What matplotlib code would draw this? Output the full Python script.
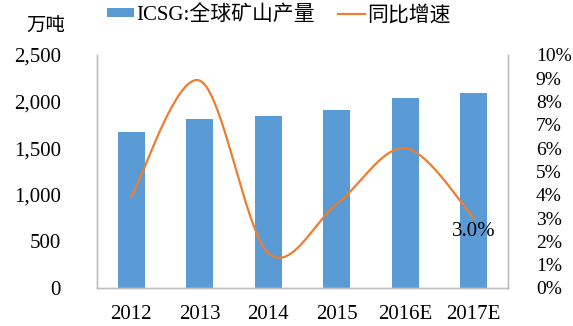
import matplotlib.pyplot as plt
import numpy as np
from matplotlib.lines import Line2D
from matplotlib.patches import Patch
from matplotlib.ticker import FuncFormatter

years = ["2012", "2013", "2014", "2015", "2016E", "2017E"]
output = [1671, 1817, 1849, 1913, 2035, 2090]  # 万吨
growth = [3.9, 8.9, 1.5, 3.6, 6.0, 3.0]  # %

BLUE = "#5B9BD5"
ORANGE = "#ED7D31"
GRAY = "#BFBFBF"
LATIN = ["Liberation Serif", "Noto Sans CJK SC"]
CJK = ["Noto Sans CJK SC", "Liberation Serif"]


def smooth_curve(xs, ys, steps=40):
    # cubic bezier through each point, tangents from the neighbours (office-style smoothing)
    pts = np.column_stack([xs, ys]).astype(float)
    padded = np.vstack([pts[0], pts, pts[-1]])
    out = []
    t = np.linspace(0.0, 1.0, steps)[:, None]
    for i in range(len(pts) - 1):
        p0, p3 = padded[i + 1], padded[i + 2]
        c1 = p0 + (padded[i + 2] - padded[i]) / 6.0
        c2 = p3 - (padded[i + 3] - padded[i + 1]) / 6.0
        seg = ((1 - t) ** 3) * p0 + 3 * ((1 - t) ** 2) * t * c1 + 3 * (1 - t) * t ** 2 * c2 + t ** 3 * p3
        out.append(seg if i == 0 else seg[1:])
    out = np.vstack(out)
    return out[:, 0], out[:, 1]


fig = plt.figure(figsize=(5.73, 3.26), dpi=100)
ax = fig.add_axes([0.1693, 0.1166, 0.7173, 0.7147])
x = np.arange(len(years))
ax.bar(x, output, width=0.39, color=BLUE, zorder=2)
ax.set_xlim(-0.5, len(years) - 0.5)
ax.set_ylim(0, 2500)
ax.set_yticks(np.arange(0, 2501, 500))
ax.yaxis.set_major_formatter(FuncFormatter(lambda v, p: f"{int(v):,}"))
ax.set_xticks(x)
ax.set_xticklabels(years)
ax.tick_params(length=0)
ax.tick_params(axis="y", pad=26)
ax.tick_params(axis="x", pad=12)
for lab in ax.get_xticklabels() + ax.get_yticklabels():
    lab.set_family(LATIN)
    lab.set_fontsize(15)

ax2 = ax.twinx()
sx, sy = smooth_curve(x, growth)
ax2.plot(sx, sy, color=ORANGE, lw=1.6, zorder=3)
ax2.set_ylim(0, 10)
ax2.set_yticks(np.arange(0, 11, 1))
ax2.yaxis.set_major_formatter(FuncFormatter(lambda v, p: f"{int(v)}%"))
ax2.tick_params(length=0, pad=20)
for lab in ax2.get_yticklabels():
    lab.set_family(LATIN)
    lab.set_fontsize(14)
ax2.annotate(f"{growth[-1]:.1f}%", (x[-1], growth[-1]), xytext=(0, -10),
             textcoords="offset points", ha="center", va="center",
             family=LATIN, fontsize=15)

for a in (ax, ax2):
    a.spines["top"].set_visible(False)
    for side in ("left", "right", "bottom"):
        a.spines[side].set_color(GRAY)
        a.spines[side].set_linewidth(1.0)

fig.text(0.08, 0.923, "万吨", family=CJK, fontsize=14, ha="center", va="center")

handles = [Patch(facecolor=BLUE), Line2D([0], [0], color=ORANGE, lw=1.6)]
fig.legend(handles, ["ICSG:全球矿山产量", "同比增速"], loc="center left",
           bbox_to_anchor=(0.172, 0.953), ncol=2, frameon=False,
           prop={"family": LATIN, "size": 15}, handlelength=1.3, handleheight=0.3,
           handletextpad=0.1, columnspacing=1.1, borderaxespad=0)

fig.savefig("out.png", dpi=100)
